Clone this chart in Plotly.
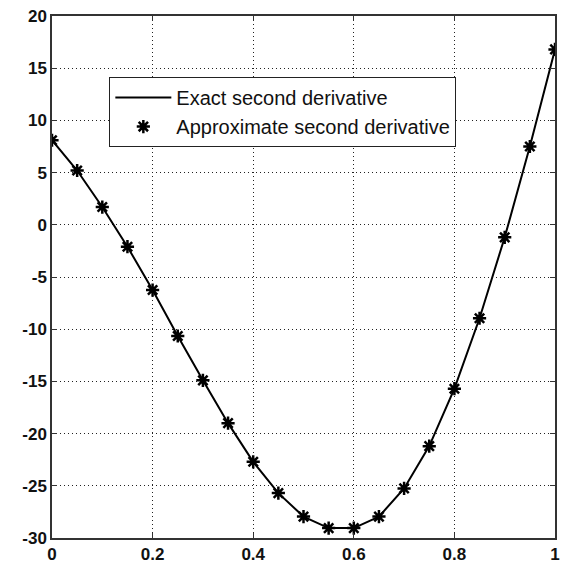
import plotly.graph_objects as go

x_vals = [0.0, 0.05, 0.1, 0.15, 0.2, 0.25, 0.3, 0.35, 0.4, 0.45, 0.5,
          0.55, 0.6, 0.65, 0.7, 0.75, 0.8, 0.85, 0.9, 0.95, 1.0]
exact_vals = [8.1, 5.2, 1.7, -2.1, -6.25, -10.65, -14.9, -19.0, -22.7, -25.7, -27.95,
              -29.05, -29.05, -27.95, -25.25, -21.2, -15.7, -8.95, -1.2, 7.5, 16.8]
approx_vals = [8.1, 5.2, 1.7, -2.1, -6.25, -10.65, -14.9, -19.0, -22.7, -25.7, -27.95,
               -29.05, -29.05, -27.95, -25.25, -21.2, -15.7, -8.95, -1.2, 7.5, 16.8]
x_ticks = [0, 0.2, 0.4, 0.6, 0.8, 1]
x_ticklabels = ["0", "0.2", "0.4", "0.6", "0.8", "1"]
y_ticks = [-30, -25, -20, -15, -10, -5, 0, 5, 10, 15, 20]
y_ticklabels = ["-30", "-25", "-20", "-15", "-10", "-5", "0", "5", "10", "15", "20"]

fig = go.Figure()
fig.add_trace(go.Scatter(
    x=x_vals, y=exact_vals, mode="lines", name="Exact second derivative",
    line=dict(color="black", width=2),
))
fig.add_trace(go.Scatter(
    x=x_vals, y=approx_vals, mode="markers", name="Approximate second derivative",
    marker=dict(symbol="asterisk-open", size=11, color="black",
                line=dict(color="black", width=2.5)),
))

axis_common = dict(
    showgrid=True, gridcolor="#222222", griddash="1px,3px", gridwidth=1,
    showline=True, linecolor="#333333", linewidth=1.5, mirror="ticks",
    ticks="inside", ticklen=5, tickcolor="#333333",
    zeroline=False,
    tickfont=dict(family="Liberation Sans, Arial", size=17, color="#111111", weight="bold"),
)

fig.update_xaxes(range=[0, 1], tickvals=x_ticks, ticktext=x_ticklabels,
                 ticklabeloverflow="allow", **axis_common)
fig.update_yaxes(range=[-30, 20], tickvals=y_ticks, ticktext=y_ticklabels, **axis_common)

fig.update_layout(
    width=561, height=566,
    margin=dict(l=52, r=1, t=16, b=28),
    plot_bgcolor="white", paper_bgcolor="white",
    showlegend=True,
    legend=dict(
        x=0.114, y=0.883, xanchor="left", yanchor="top",
        bgcolor="white", bordercolor="#222222", borderwidth=1,
        font=dict(family="Liberation Sans, Arial", size=20, color="#111111"),
        itemwidth=56, tracegroupgap=0,
    ),
)

fig.write_html(
    "out.html",
    config={"displayModeBar": False},
    post_script="document.body.style.margin='0';document.body.style.padding='0';document.body.style.overflow='hidden';",
)
